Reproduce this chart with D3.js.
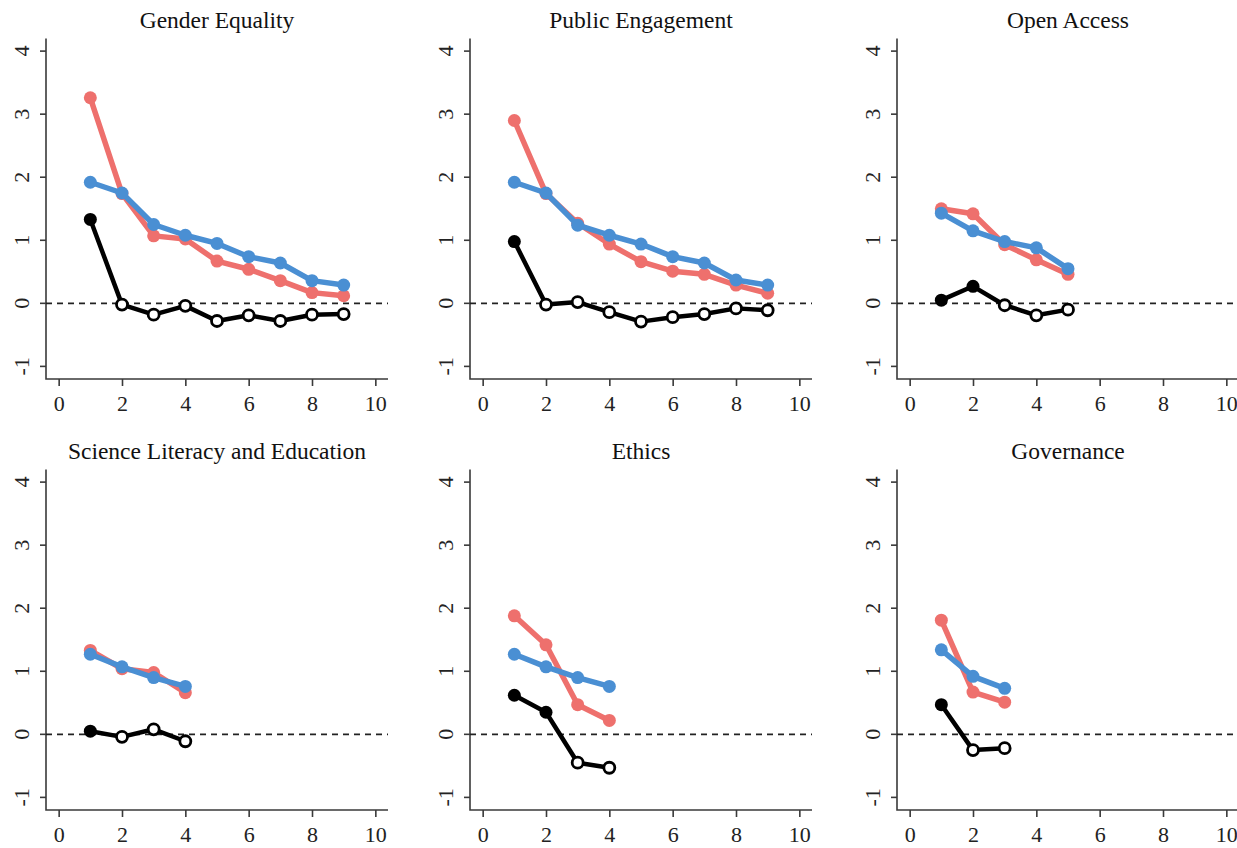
<!DOCTYPE html>
<html>
<head>
<meta charset="utf-8">
<script src="https://cdn.jsdelivr.net/npm/d3@7"></script>
<style>
  body { margin: 0; background: #fff; }
  svg { display: block; }
</style>
</head>
<body>
<div id="chart"></div>
<script>
// panel titles, in reading order
const titles = ["Gender Equality", "Public Engagement", "Open Access",
    "Science Literacy and Education", "Ethics", "Governance"];

// red series
const genderRed = [3.26, 1.74, 1.07, 1.02, 0.67, 0.54, 0.36, 0.17, 0.12];
const publicRed = [2.90, 1.74, 1.27, 0.94, 0.66, 0.51, 0.46, 0.29, 0.16];
const openRed = [1.50, 1.42, 0.93, 0.69, 0.46];
const literacyRed = [1.33, 1.04, 0.98, 0.66];
const ethicsRed = [1.88, 1.42, 0.47, 0.22];
const governanceRed = [1.81, 0.67, 0.51];

// blue series
const genderBlue = [1.92, 1.75, 1.25, 1.08, 0.95, 0.74, 0.64, 0.36, 0.29];
const publicBlue = [1.92, 1.75, 1.24, 1.08, 0.94, 0.74, 0.64, 0.37, 0.29];
const openBlue = [1.43, 1.15, 0.98, 0.88, 0.55];
const literacyBlue = [1.27, 1.07, 0.90, 0.76];
const ethicsBlue = [1.27, 1.07, 0.90, 0.76];
const governanceBlue = [1.34, 0.92, 0.73];

// black series (difference)
const genderBlack = [1.33, -0.02, -0.18, -0.04, -0.28, -0.19, -0.28, -0.18, -0.17];
const publicBlack = [0.98, -0.02, 0.02, -0.14, -0.29, -0.22, -0.17, -0.08, -0.11];
const openBlack = [0.05, 0.27, -0.03, -0.19, -0.10];
const literacyBlack = [0.05, -0.04, 0.08, -0.11];
const ethicsBlack = [0.62, 0.35, -0.45, -0.53];
const governanceBlack = [0.47, -0.25, -0.22];

// how many of the first black points are filled
const filledCount = [1, 1, 2, 1, 2, 1];

const xTicks = [0, 2, 4, 6, 8, 10];
const yTicks = [-1, 0, 1, 2, 3, 4];

const redData = [genderRed, publicRed, openRed, literacyRed, ethicsRed, governanceRed];
const blueData = [genderBlue, publicBlue, openBlue, literacyBlue, ethicsBlue, governanceBlue];
const blackData = [genderBlack, publicBlack, openBlack, literacyBlack, ethicsBlack, governanceBlack];

const width = 1237;
const height = 848;
const panelLefts = [46, 470, 897];
const panelTops = [38.5, 469.5];
const panelW = 342;
const panelH = 340.5;

const red = "#ee706d";
const blue = "#4a8fd3";
const axisColor = "#3a3a3a";
const font = "'Liberation Serif', 'DejaVu Serif', serif";

const svg = d3.select("#chart")
    .append("svg")
    .attr("width", width)
    .attr("height", height)
    .attr("viewBox", [0, 0, width, height]);

titles.forEach((title, i) => {
    const left = panelLefts[i % 3];
    const top = panelTops[Math.floor(i / 3)];

    const x = d3.scaleLinear().domain([-0.4, 10.4]).range([left, left + panelW]);
    const y = d3.scaleLinear().domain([-1.2, 4.2]).range([top + panelH, top]);

    const g = svg.append("g");

    // L shaped box
    g.append("path")
        .attr("d", `M${left},${top}V${top + panelH}H${left + panelW}`)
        .attr("fill", "none")
        .attr("stroke", axisColor)
        .attr("stroke-width", 1.6);

    // x axis
    g.append("g")
        .attr("transform", `translate(0,${top + panelH})`)
        .call(d3.axisBottom(x).tickValues(xTicks).tickSize(7).tickPadding(9).tickFormat(d3.format("d")))
        .call(g => g.select(".domain").remove())
        .call(g => g.selectAll("line").attr("stroke", axisColor).attr("stroke-width", 1.6))
        .call(g => g.selectAll("text")
            .attr("fill", "#222")
            .style("font-family", font)
            .style("font-size", "22px"));

    // y axis, labels rotated like base R
    const yAxis = g.append("g");
    yAxis.selectAll("line")
        .data(yTicks)
        .join("line")
        .attr("x1", left)
        .attr("x2", left - 6)
        .attr("y1", d => y(d))
        .attr("y2", d => y(d))
        .attr("stroke", axisColor)
        .attr("stroke-width", 1.6);
    yAxis.selectAll("text")
        .data(yTicks)
        .join("text")
        .attr("transform", d => `translate(${left - 17},${y(d)}) rotate(-90)`)
        .attr("text-anchor", "middle")
        .attr("fill", "#222")
        .style("font-family", font)
        .style("font-size", "22px")
        .text(d => d);

    // title
    g.append("text")
        .attr("x", left + panelW / 2)
        .attr("y", top - 11)
        .attr("text-anchor", "middle")
        .attr("fill", "#111")
        .style("font-family", font)
        .style("font-size", "23.5px")
        .text(title);

    // zero reference line
    g.append("line")
        .attr("x1", left)
        .attr("x2", left + panelW)
        .attr("y1", y(0))
        .attr("y2", y(0))
        .attr("stroke", "#222")
        .attr("stroke-width", 1.8)
        .attr("stroke-dasharray", "6,5");

    const line = d3.line()
        .x((d, j) => x(j + 1))
        .y(d => y(d));

    // coloured series
    [[redData[i], red], [blueData[i], blue]].forEach(([values, color]) => {
        g.append("path")
            .datum(values)
            .attr("d", line)
            .attr("fill", "none")
            .attr("stroke", color)
            .attr("stroke-width", 5.5)
            .attr("stroke-linejoin", "round");
        g.append("g")
            .selectAll("circle")
            .data(values)
            .join("circle")
            .attr("cx", (d, j) => x(j + 1))
            .attr("cy", d => y(d))
            .attr("r", 6.5)
            .attr("fill", color);
    });

    // black series, filled first points then open circles
    g.append("path")
        .datum(blackData[i])
        .attr("d", line)
        .attr("fill", "none")
        .attr("stroke", "#000")
        .attr("stroke-width", 4.5)
        .attr("stroke-linejoin", "round");
    g.append("g")
        .selectAll("circle")
        .data(blackData[i])
        .join("circle")
        .attr("cx", (d, j) => x(j + 1))
        .attr("cy", d => y(d))
        .attr("r", (d, j) => j < filledCount[i] ? 6.5 : 5.5)
        .attr("fill", (d, j) => j < filledCount[i] ? "#000" : "#fff")
        .attr("stroke", "#000")
        .attr("stroke-width", (d, j) => j < filledCount[i] ? 0 : 2.8);
});
</script>
</body>
</html>
